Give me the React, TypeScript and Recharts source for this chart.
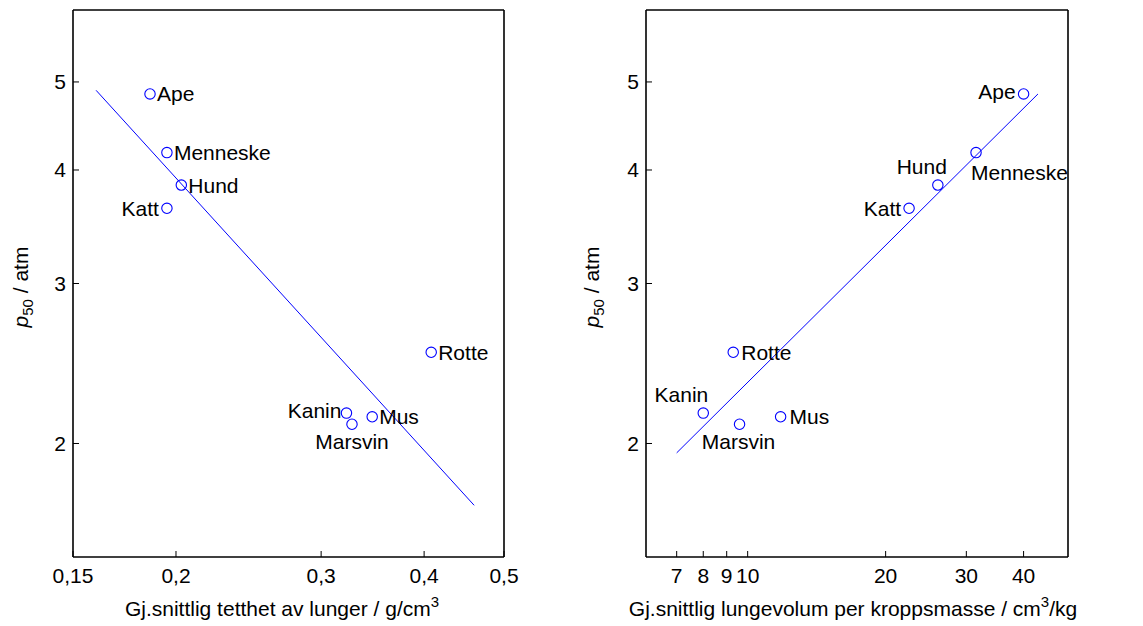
import React from 'react';
import { ScatterChart, Scatter, XAxis, YAxis, ReferenceLine } from 'recharts';

// ---- data ----
const animals = ['Ape', 'Menneske', 'Hund', 'Katt', 'Rotte', 'Kanin', 'Marsvin', 'Mus'];
const p50 = [4.85, 4.18, 3.85, 3.63, 2.52, 2.16, 2.1, 2.14];
const lungDensity = [0.186, 0.195, 0.203, 0.195, 0.408, 0.322, 0.327, 0.346];
const lungVolume = [40.0, 31.5, 26.0, 22.5, 9.3, 8.0, 9.6, 11.8];

const densityTicks = [0.15, 0.2, 0.3, 0.4, 0.5];
const volumeTicks = [7, 8, 9, 10, 20, 30, 40];
const p50Ticks = [2, 3, 4, 5];

const densityDomain = [0.15, 0.5];
const volumeDomain = [6, 50];
const p50Domain = [1.5, 6];

const densityFitX = [0.16, 0.46];
const densityFitY = [4.895, 1.71];
const volumeFitX = [7, 43];
const volumeFitY = [1.953, 4.85];

// ---- styles ----
const FONT = '"Liberation Sans", Arial, Helvetica, sans-serif';
const BLUE = '#0000ff';
const FS = 21;

type Place = { dx: number; dy: number; anchor: 'start' | 'end' | 'middle' };
const leftPlaces: Record<string, Place> = {
  Ape: { dx: 7, dy: 0, anchor: 'start' },
  Menneske: { dx: 7, dy: 0, anchor: 'start' },
  Hund: { dx: 7, dy: 0, anchor: 'start' },
  Katt: { dx: -8, dy: 0, anchor: 'end' },
  Rotte: { dx: 7, dy: 0, anchor: 'start' },
  Kanin: { dx: -5, dy: -3, anchor: 'end' },
  Marsvin: { dx: 0, dy: 17, anchor: 'middle' },
  Mus: { dx: 7, dy: 0, anchor: 'start' },
};
const rightPlaces: Record<string, Place> = {
  Ape: { dx: -8, dy: -2, anchor: 'end' },
  Menneske: { dx: -5, dy: 20, anchor: 'start' },
  Hund: { dx: 9, dy: -19, anchor: 'end' },
  Katt: { dx: -8, dy: 0, anchor: 'end' },
  Rotte: { dx: 8, dy: 0, anchor: 'start' },
  Kanin: { dx: 5, dy: -19, anchor: 'end' },
  Marsvin: { dx: -1, dy: 17, anchor: 'middle' },
  Mus: { dx: 9, dy: 0, anchor: 'start' },
};

const densityData = animals.map((name, i) => ({ name, x: lungDensity[i], y: p50[i] }));
const volumeData = animals.map((name, i) => ({ name, x: lungVolume[i], y: p50[i] }));

const fmt = (v: number) => String(v).replace('.', ',');

function makeShape(places: Record<string, Place>) {
  return (props: any) => {
    const { cx, cy, payload } = props;
    const p = places[payload.name];
    return (
      <g>
        <circle cx={cx} cy={cy} r={5.2} fill="none" stroke={BLUE} strokeWidth={1.1} />
        <text
          x={cx + p.dx}
          y={cy + p.dy}
          textAnchor={p.anchor}
          dominantBaseline="central"
          fontSize={FS}
          fontFamily={FONT}
          fill="#000"
        >
          {payload.name}
        </text>
      </g>
    );
  };
}

const tickStyle = { fill: '#000', fontSize: FS, fontFamily: FONT };
const axisLineStyle = { stroke: '#000', strokeWidth: 1.6 };
const tickLineStyle = { stroke: '#000', strokeWidth: 1 };

function YTitle({ x }: { x: number }) {
  const y = 287;
  return (
    <text
      x={x}
      y={y}
      transform={`rotate(-90 ${x} ${y})`}
      textAnchor="middle"
      fontSize={FS}
      fontFamily={FONT}
      fill="#000"
    >
      <tspan fontStyle="italic">p</tspan>
      <tspan fontSize={15} dy={5}>50</tspan>
      <tspan dy={-5}>{'  / atm'}</tspan>
    </text>
  );
}

function Panel(props: {
  left: number;
  width: number;
  margin: { top: number; right: number; bottom: number; left: number };
  data: any[];
  xDomain: number[];
  xTicks: number[];
  fitX: number[];
  fitY: number[];
  places: Record<string, Place>;
  titleMain: string;
  titleTail: string;
  titleX: number;
  yTitleX: number;
}) {
  const { left, width, margin, data, xDomain, xTicks, fitX, fitY, places, titleMain, titleTail, titleX, yTitleX } = props;
  return (
    <div style={{ position: 'absolute', left, top: 0 }}>
      <ScatterChart width={width} height={626} margin={margin}>
        <XAxis
          xAxisId="b"
          dataKey="x"
          type="number"
          scale="log"
          domain={xDomain}
          ticks={xTicks}
          allowDataOverflow
          interval={0}
          orientation="bottom"
          height={60}
          tickSize={-6}
          tickMargin={17}
          tickFormatter={fmt}
          tick={tickStyle}
          axisLine={axisLineStyle}
          tickLine={tickLineStyle}
          label={(lp: any) => (
            <text x={titleX} y={616} textAnchor="middle" fontSize={FS} fontFamily={FONT} fill="#000">
              {titleMain}
              <tspan fontSize={15} dy={-9}>3</tspan>
              <tspan dy={9}>{titleTail}</tspan>
            </text>
          )}
        />
        <XAxis
          xAxisId="t"
          type="number"
          scale="log"
          domain={xDomain}
          ticks={xTicks}
          allowDataOverflow
          interval={0}
          orientation="top"
          height={1}
          tickSize={-6}
          tick={false}
          axisLine={axisLineStyle}
          tickLine={tickLineStyle}
        />
        <YAxis
          yAxisId="l"
          dataKey="y"
          type="number"
          scale="log"
          domain={p50Domain}
          ticks={p50Ticks}
          allowDataOverflow
          interval={0}
          width={60}
          tickSize={-6}
          tickMargin={13}
          tick={tickStyle}
          axisLine={axisLineStyle}
          tickLine={tickLineStyle}
          label={() => <YTitle x={yTitleX} />}
        />
        <YAxis
          yAxisId="r"
          orientation="right"
          type="number"
          scale="log"
          domain={p50Domain}
          ticks={p50Ticks}
          allowDataOverflow
          interval={0}
          width={1}
          tickSize={-6}
          tick={false}
          axisLine={axisLineStyle}
          tickLine={tickLineStyle}
        />
        <ReferenceLine
          xAxisId="b"
          yAxisId="l"
          segment={[
            { x: fitX[0], y: fitY[0] },
            { x: fitX[1], y: fitY[1] },
          ]}
          stroke={BLUE}
          strokeWidth={1}
          ifOverflow="visible"
        />
        <Scatter
          xAxisId="b"
          yAxisId="l"
          data={data}
          shape={makeShape(places)}
          isAnimationActive={false}
        />
      </ScatterChart>
    </div>
  );
}

export default function App() {
  return (
    <div style={{ position: 'absolute', left: 0, top: 0, width: 1143, height: 626, background: '#fff' }}>
      <Panel
        left={0}
        width={570}
        margin={{ top: 9, right: 65, bottom: 9, left: 13 }}
        data={densityData}
        xDomain={densityDomain}
        xTicks={densityTicks}
        fitX={densityFitX}
        fitY={densityFitY}
        places={leftPlaces}
        titleMain="Gj.snittlig tetthet av lunger / g/cm"
        titleTail=""
        titleX={282}
        yTitleX={28}
      />
      <Panel
        left={570}
        width={573}
        margin={{ top: 9, right: 74, bottom: 9, left: 16 }}
        data={volumeData}
        xDomain={volumeDomain}
        xTicks={volumeTicks}
        fitX={volumeFitX}
        fitY={volumeFitY}
        places={rightPlaces}
        titleMain="Gj.snittlig lungevolum per kroppsmasse / cm"
        titleTail="/kg"
        titleX={283}
        yTitleX={29}
      />
    </div>
  );
}
